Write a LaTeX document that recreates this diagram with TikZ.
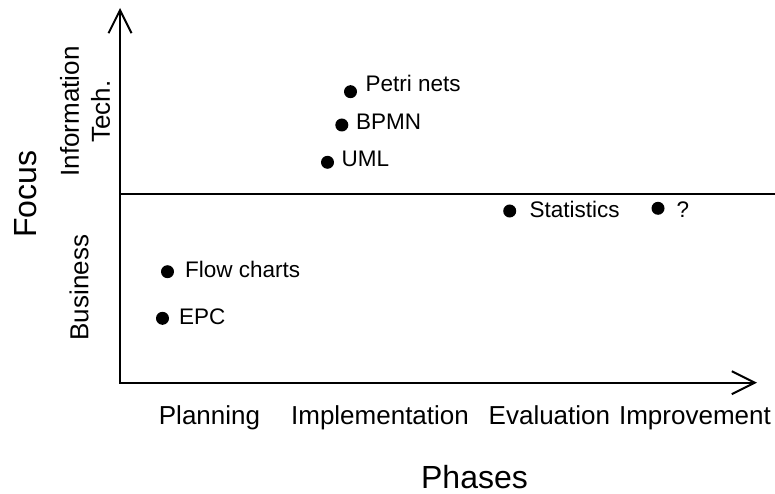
\documentclass[tikz,border=0pt]{standalone}
\usepackage{fontspec}
\setmainfont{Liberation Sans}
\usetikzlibrary{arrows.meta}
\begin{document}
\begin{tikzpicture}[x=1pt,y=-1pt,
  axis/.style={line width=2pt,line join=miter},
  barb/.tip={Straight Barb[length=23pt,width=23pt]},
  dot/.style={circle,fill=black,draw=none,inner sep=0pt,minimum size=13pt},
  item/.style={font=\fontsize{22.5}{27}\selectfont,inner sep=0pt,anchor=base west},
  phase/.style={font=\fontsize{26}{31}\selectfont,inner sep=0pt,anchor=base},
  side/.style={font=\fontsize{26}{31}\selectfont,inner sep=0pt,rotate=90,align=center},
  title/.style={font=\fontsize{32}{38}\selectfont,inner sep=0pt,anchor=base}]
\useasboundingbox (0,0) rectangle (775,494);

% axes
\coordinate (origin) at (120,382.7);
\coordinate (ytop) at (120,8);
\coordinate (xend) at (757,382.7);
\draw[axis,barb-barb] (ytop) -- (origin) -- (xend);

% separator between the two focus areas
\coordinate (sepL) at (120,194);
\coordinate (sepR) at (775,194);
\draw[line width=2pt] (sepL) -- (sepR);

% axis titles
\node[title] (phases) at (474.5,488.5) {Phases};
\node[title,rotate=90] (focus) at (36,194) {Focus};

% phase labels
\node[phase] (planning) at (209.5,424.5) {Planning};
\node[phase] (impl) at (380,424.5) {Implementation};
\node[phase,anchor=base west] (eval) at (488.5,424.5) {Evaluation};
\node[phase,anchor=base east] (improve) at (771,424.5) {Improvement};

% focus labels
\node[side,anchor=center] (it) at (85,111.5) {Information\\Tech.};
\node[side,anchor=base] (business) at (88.3,287.7) {Business};

% techniques
\node[dot] (petri) at (350.5,91.7) {};
\node[item] (petriL) at (365.5,92) {Petri nets};
\node[dot] (bpmn) at (341.8,125) {};
\node[item] (bpmnL) at (356,130) {BPMN};
\node[dot] (uml) at (327.5,162.3) {};
\node[item] (umlL) at (341.5,166.7) {UML};
\node[dot] (stats) at (509.7,211) {};
\node[item] (statsL) at (529.5,217) {Statistics};
\node[dot] (unknown) at (658,208.3) {};
\node[item] (unknownL) at (676.5,217) {?};
\node[dot] (flow) at (167.5,271.7) {};
\node[item] (flowL) at (185,277.3) {Flow charts};
\node[dot] (epc) at (162.5,318.3) {};
\node[item] (epcL) at (179,324) {EPC};
\end{tikzpicture}
\end{document}
